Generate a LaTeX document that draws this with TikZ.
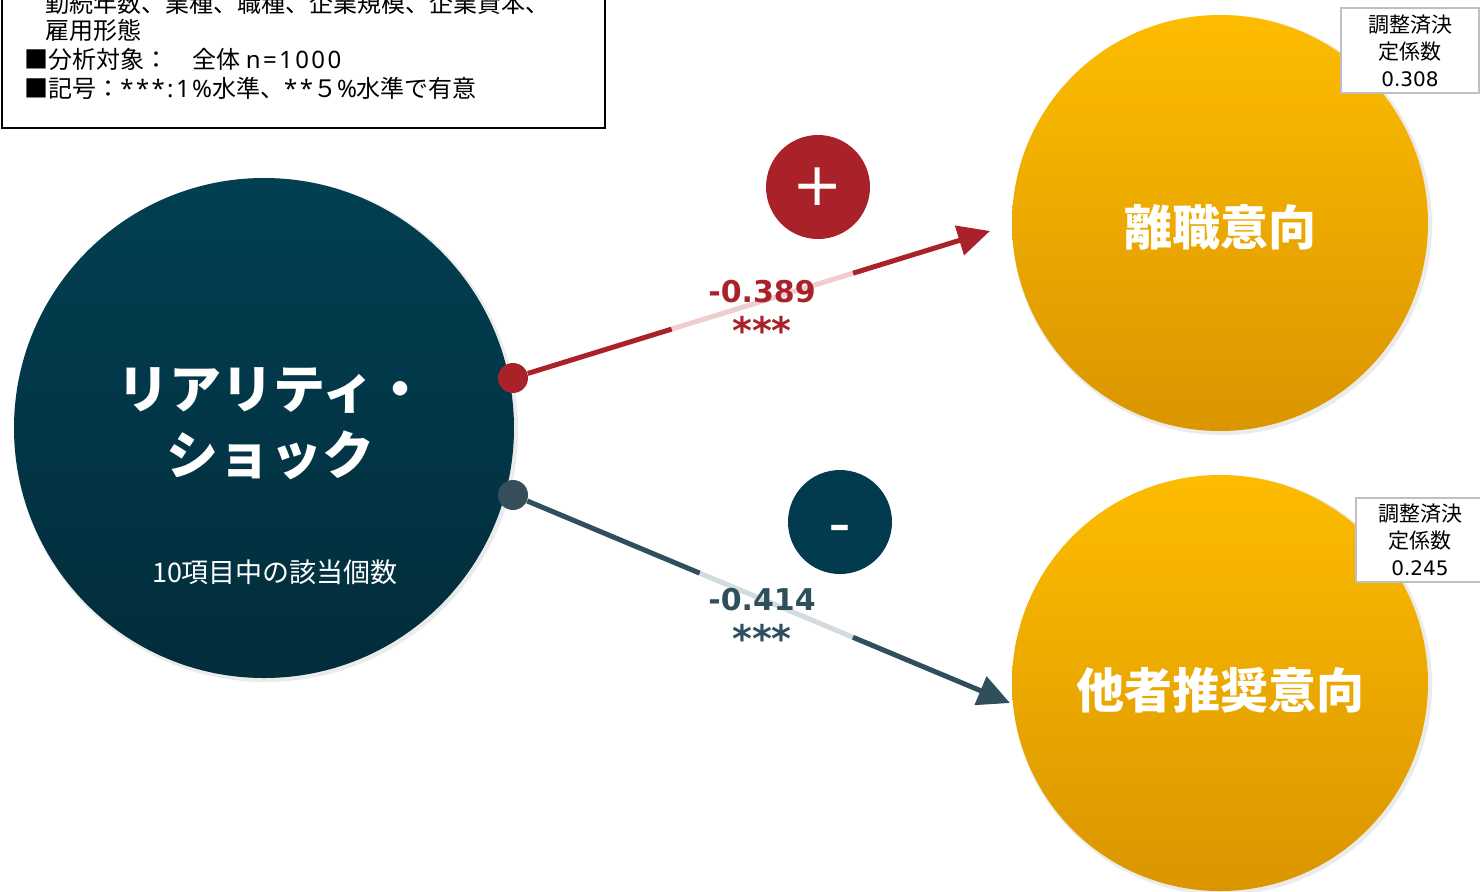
\documentclass[tikz,border=0pt]{standalone}
\usepackage{fontspec}
\setmainfont{Noto Sans CJK JP}
\newfontfamily\numfont{DejaVu Sans}
\newfontfamily\latfont[LetterSpace=10]{Noto Sans}
\usetikzlibrary{arrows.meta,calc}
\definecolor{cred}{HTML}{AA2229}
\definecolor{cpink}{HTML}{EFCDD0}
\definecolor{cslate}{HTML}{2F4F5C}
\definecolor{cdot}{HTML}{354E5A}
\definecolor{clight}{HTML}{D3DBDF}
\definecolor{cteal}{HTML}{023F52}
\definecolor{ctealb}{HTML}{022D3B}
\definecolor{cminus}{HTML}{023B4E}
\definecolor{corange}{HTML}{FDBC00}
\definecolor{corangeb}{HTML}{DA9500}
\definecolor{cboxgray}{HTML}{BFBFBF}
\newcommand{\lat}[1]{{\latfont\fontsize{12pt}{14pt}\selectfont #1}}
\tikzset{
  bigcirc/.style={circle, inner sep=0pt, minimum size=250pt, top color=cteal, bottom color=ctealb, draw=none},
  orcirc/.style={circle, inner sep=0pt, minimum size=208pt, top color=corange, bottom color=corangeb, draw=none},
  shadowc/.style={circle, inner sep=0pt, fill=black, opacity=0.08, draw=none},
  signc/.style={circle, inner sep=0pt, minimum size=52pt, text=white},
  dotn/.style={circle, inner sep=0pt, minimum size=15pt},
  legtext/.style={anchor=west, inner sep=0pt, font=\fontsize{12pt}{14pt}\selectfont},
  rbox/.style={draw=cboxgray, line width=1pt, fill=white, align=center, inner sep=0pt, font=\fontsize{10.5pt}{13.5pt}\selectfont},
  wline/.style={line width=2.5pt},
  coefl/.style={font=\numfont\bfseries\fontsize{15pt}{16pt}\selectfont, inner sep=0pt},
  starl/.style={font=\numfont\bfseries\fontsize{19pt}{20pt}\selectfont, inner sep=0pt},
  tip/.style={-{Triangle[length=16pt,width=15pt]}}
}
\begin{document}
\begin{tikzpicture}[x=0.5pt,y=-0.5pt]
\clip (0,0) rectangle (1480,891);
\fill[white] (0,0) rectangle (1480,891);
% legend box
\draw[line width=1pt, fill=white] (2,-60) rectangle (605,128);
\node[legtext] (l1) at (45,3) {勤続年数、業種、職種、企業規模、企業資本、};
\node[legtext] (l2) at (45,30) {雇用形態};
\node[legtext] (l3) at (24,59) {■分析対象：\quad 全体 \lat{n=1000}};
\node[legtext] (l4) at (24,88) {■記号：\lat{***:1\%}水準、\lat{**}５\lat{\%}水準で有意};
% shadows
\node[shadowc, minimum size=252pt] at (266,430) {};
\node[shadowc, minimum size=210pt] at (1222,225) {};
\node[shadowc, minimum size=210pt] at (1222,685) {};
% main circles
\node[bigcirc] (rs) at (264,428) {};
\node[orcirc] (ri) at (1220,223) {};
\node[orcirc] (rec) at (1220,683) {};
% circle texts
\node[text=white, font=\bfseries\fontsize{26pt}{30pt}\selectfont, inner sep=0pt] (rsA) at (272,390) {リアリティ・};
\node[text=white, font=\bfseries\fontsize{26pt}{30pt}\selectfont, inner sep=0pt] (rsB) at (270,455) {ショック};
\node[text=white, font=\fontsize{13.5pt}{16pt}\selectfont, inner sep=0pt] (rsC) at (275,572) {10項目中の該当個数};
\node[text=white, font=\bfseries\fontsize{24pt}{28pt}\selectfont, inner sep=0pt] (riT) at (1220,227) {離職意向};
\node[text=white, font=\bfseries\fontsize{24pt}{28pt}\selectfont, inner sep=0pt] (recT) at (1220,690) {他者推奨意向};
% R2 boxes
\node[rbox, minimum width=69pt, minimum height=42.5pt] (r2a) at (1410,50.5) {調整済決\\定係数\\{\numfont\fontsize{10pt}{13.5pt}\selectfont 0.308}};
\node[rbox, minimum width=64pt, minimum height=42pt] (r2b) at (1420,540) {調整済決\\定係数\\{\numfont\fontsize{10pt}{13.5pt}\selectfont 0.245}};
% sign circles
\node[signc, fill=cred, font=\numfont\fontsize{30pt}{30pt}\selectfont] (plus) at (818,187) {+};
\node[signc, fill=cminus, font=\numfont\bfseries\fontsize{21pt}{21pt}\selectfont, text height=17.5pt, text depth=0pt] (minus) at (840,522) {–};
% dots and tips
\node[dotn, fill=cred] (d1) at (513,378) {};
\node[dotn, fill=cdot] (d2) at (513,495) {};
\coordinate (t1) at (990,231);
\coordinate (t2) at (1010,703);
\coordinate (a1) at ($(d1.center)!0.333!(t1)$);
\coordinate (b1) at ($(d1.center)!0.713!(t1)$);
\coordinate (a2) at ($(d2.center)!0.376!(t2)$);
\coordinate (b2) at ($(d2.center)!0.684!(t2)$);
% connectors
\draw[wline, cred] (d1) -- (a1);
\draw[wline, cpink] (a1) -- (b1);
\draw[wline, cred, tip] (b1) -- (t1);
\draw[wline, cslate] (d2) -- (a2);
\draw[wline, clight] (a2) -- (b2);
\draw[wline, cslate, tip] (b2) -- (t2);
% coefficients
\node[coefl, text=cred] (c1) at (762,292) {-0.389};
\node[starl, text=cred] (s1) at (762,330) {***};
\node[coefl, text=cslate] (c2) at (762,600) {-0.414};
\node[starl, text=cslate] (s2) at (762,638) {***};
\end{tikzpicture}
\end{document}
